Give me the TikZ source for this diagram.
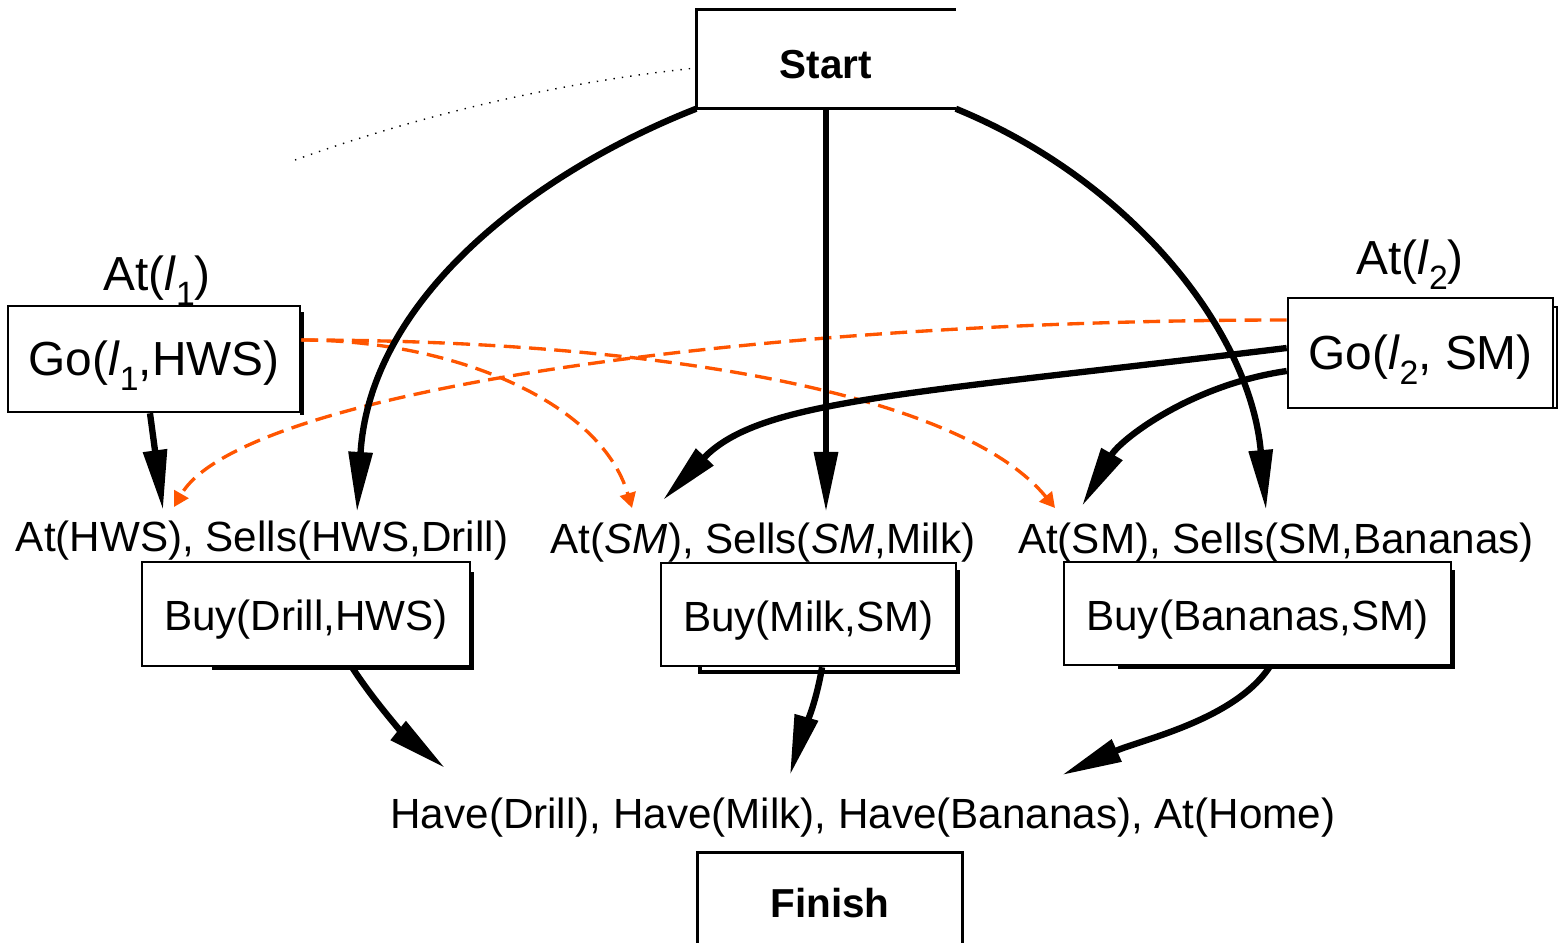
\documentclass[tikz,border=0pt]{standalone}
\usepackage{fontspec}
\setmainfont{Liberation Sans}
\usetikzlibrary{arrows.meta,calc}
\definecolor{orng}{RGB}{255,85,0}
\newcommand\lsub[1]{\raisebox{-0.32em}{\fontsize{9.6pt}{10pt}\selectfont #1}}
\newcommand\low[1]{\raisebox{-0.14em}[\height][\depth]{#1}}
\tikzset{
  box/.style={draw, line width=0.7pt, fill=white, inner sep=0pt, font=\fontsize{12}{14}\selectfont},
  gobox/.style={box, font=\fontsize{13.6}{16}\selectfont},
  lbl/.style={inner sep=0pt, font=\fontsize{12}{14}\selectfont},
  biglbl/.style={inner sep=0pt, font=\fontsize{13.6}{16}\selectfont},
  term/.style={inner sep=0pt, font=\bfseries\fontsize{11.5}{14}\selectfont},
  frame/.style={line width=0.9pt},
  shade/.style={line width=1.3pt},
  link/.style={line width=1.8pt, -{Triangle[length=0.6cm,width=0.23cm]}},
  prot/.style={orng, line width=0.95pt, dash pattern=on 4.8pt off 2.4pt, -{Triangle[length=0.15cm,width=0.16cm]}}
}
\begin{document}
\begin{tikzpicture}[x=0.01cm,y=-0.01cm]
\useasboundingbox (0,0) rectangle (1561,942);

% Start and Finish
\node[term, minimum width=2.58cm, minimum height=0.98cm] (start) at (826,59) {\low{Start}};
\draw[frame] (start.north east) -- (start.north west) -- (start.south west) -- (start.south east);
\node[term, minimum width=2.63cm, minimum height=0.89cm] (finish) at (830,897.5) {\low{Finish}};
\draw[frame] (finish.south west) -- (finish.north west) -- (finish.north east) -- (finish.south east);

% shadows
\draw[shade] (302,312) -- (302,415);
\draw[line width=0.6pt] (1553,307) -- (1557,307) -- (1557,408) -- (1553,408);
\draw[shade] (472,572) -- (472,668) -- (212,668);
\draw[shade] (958,570) -- (958,672) -- (700,672) -- (700,667);
\draw[shade] (1453,570) -- (1453,667) -- (1118,667);

% Go boxes
\node[gobox, minimum width=2.92cm, minimum height=1.06cm] (go1) at (154,359) {\low{Go(\textit{l}\lsub{1},HWS)}};
\node[gobox, minimum width=2.65cm, minimum height=1.10cm] (go2) at (1420.5,353) {\low{Go(\textit{l}\lsub{2}, SM)}};
\node[biglbl] (at1) at (157,281) {At(\textit{l}\lsub{1})};
\node[biglbl] (at2) at (1410,265) {At(\textit{l}\lsub{2})};

% Buy boxes
\node[box, minimum width=3.28cm, minimum height=1.04cm] (buy1) at (306,614) {\low{Buy(Drill,HWS)}};
\node[box, minimum width=2.95cm, minimum height=1.03cm] (buy2) at (808.5,614.5) {\low{Buy(Milk,SM)}};
\node[box, minimum width=3.87cm, minimum height=1.03cm] (buy3) at (1257.5,613.5) {\low{Buy(Bananas,SM)}};

% precondition / goal texts
\node[lbl] (pre1) at (262,541) {At(HWS), Sells(HWS,Drill)};
\node[lbl] (pre2) at (763,543) {At(\textit{SM}), Sells(\textit{SM},Milk)};
\node[lbl] (pre3) at (1276,543) {At(SM), Sells(SM,Bananas)};
\node[lbl] (goal) at (863,818) {Have(Drill), Have(Milk), Have(Bananas), At(Home)};

% arrow tips
\coordinate (s1) at (357,512);
\coordinate (s2) at (826,512);
\coordinate (s3) at (1266,510);
\coordinate (g1) at (163,510);
\coordinate (g2a) at (663,500);
\coordinate (g2b) at (1082,506);
\coordinate (b1) at (445,768);
\coordinate (b2) at (790,775);
\coordinate (b3) at (1062,775);
\coordinate (o1) at (632,508);
\coordinate (o2) at (1055,508);
\coordinate (o3) at (174,507);
\coordinate (dotA) at (295,160);

% dotted fragment
\draw[line width=0.4pt, dotted] (dotA) .. controls (420,115) and (560,82) .. (start.west |- 0,68);

% orange dashed protection links
\draw[prot] (go1.east |- 0,340) .. controls (450,340) and (600,400) .. (o1);
\draw[prot] (go1.east |- 0,340) .. controls (650,340) and (960,392) .. (o2);
\draw[prot] (go2.west |- 0,320) .. controls (750,320) and (240,392) .. (o3);

% causal links
\draw[link] (start.south west) .. controls (540,170) and (370,295) .. (s1);
\draw[link] (start.south -| s2) -- (s2);
\draw[link] (start.south east) .. controls (1130,180) and (1250,330) .. (s3);
\draw[link] (go1.south -| 150,0) -- (g1);
\draw[link] (go2.west |- 0,348) .. controls (900,395) and (760,400) .. (g2a);
\draw[link] (go2.west |- 0,371) .. controls (1190,385) and (1120,440) .. (g2b);
\draw[link] (buy1.south -| 352,0) .. controls (380,710) and (410,740) .. (b1);
\draw[link] (buy2.south -| 822,0) .. controls (815,710) and (800,740) .. (b2);
\draw[link] (buy3.south -| 1270,0) .. controls (1235,720) and (1140,740) .. (b3);
\end{tikzpicture}
\end{document}
